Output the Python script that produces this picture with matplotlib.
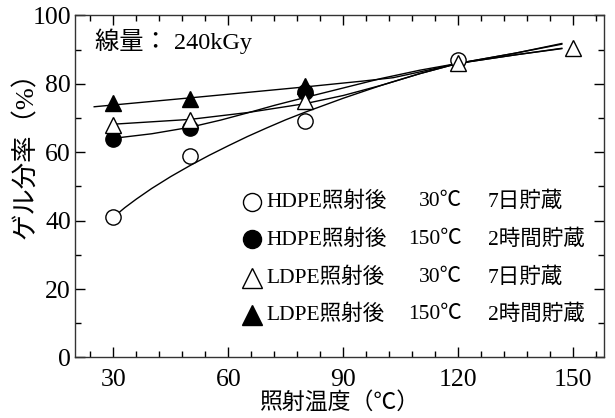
"""Gel fraction vs. irradiation temperature for HDPE / LDPE (240 kGy)"""
import numpy as np
import matplotlib
matplotlib.use("Agg")
from matplotlib import pyplot as plt
from matplotlib.ticker import MultipleLocator

plt.rcParams['font.family'] = ['Liberation Serif', 'Noto Sans CJK JP']
plt.rcParams['axes.unicode_minus'] = False

# measured gel fraction (%)
temp_hdpe_rt = [30, 50, 80, 120]
gel_hdpe_rt = [41, 59, 69, 87]
temp_hdpe_hot = [30, 50, 80]
gel_hdpe_hot = [64, 67, 77.5]
temp_ldpe_rt = [30, 50, 80, 120, 150]
gel_ldpe_rt = [68, 69.5, 75, 86, 90.5]
temp_ldpe_hot = [30, 50, 80]
gel_ldpe_hot = [74.5, 75.5, 79.5]

# hand-drawn trend curves
trend_x_hdpe_rt = [30, 33, 36, 40, 45, 50, 55, 60, 65, 70, 75, 80, 90, 100,
                   110, 120, 135, 147]
trend_y_hdpe_rt = [41, 43.8, 46.3, 49.4, 52.9, 56.1, 59.1, 61.9, 64.6, 67.1,
                   69.5, 71.7, 75.8, 79.6, 83, 86, 88.5, 90.3]
trend_x_hdpe_hot = [31, 40, 50, 58, 65, 72, 80, 90, 100, 110, 120, 135, 147]
trend_y_hdpe_hot = [64.2, 65.4, 67.3, 69.4, 71.5, 73.7, 76, 78.8, 81.6, 84,
                    86, 88.5, 90.4]
trend_x_ldpe_rt = [30, 50, 65, 80, 90, 100, 110, 120, 135, 147]
trend_y_ldpe_rt = [68.2, 69.6, 71.6, 74.2, 76.6, 79.6, 83, 86, 89.0, 91.6]
trend_x_ldpe_hot = [25, 50, 80, 95, 103, 110, 120, 135, 147]
trend_y_ldpe_hot = [73.3, 75.9, 79.1, 80.8, 81.8, 83.5, 86, 89.0, 91.8]

legend_names = ["HDPE照射後", "HDPE照射後", "LDPE照射後", "LDPE照射後"]
legend_temps = ["30℃", "150℃", "30℃", "150℃"]
legend_store = ["7日貯蔵", "2時間貯蔵", "7日貯蔵", "2時間貯蔵"]


def main():
    fig = plt.figure(figsize=(6.15, 4.18), dpi=100)
    ax = fig.add_axes([0.122, 0.145, 0.860, 0.818])

    line_kw = dict(color="black", lw=1.0, zorder=2)
    ax.plot(trend_x_hdpe_rt, trend_y_hdpe_rt, **line_kw)
    ax.plot(trend_x_hdpe_hot, trend_y_hdpe_hot, **line_kw)
    ax.plot(trend_x_ldpe_rt, trend_y_ldpe_rt, **line_kw)
    ax.plot(trend_x_ldpe_hot, trend_y_ldpe_hot, **line_kw)

    styles = [
        ("o", "white", 11),
        ("o", "black", 11),
        ("^", "white", 12),
        ("^", "black", 12),
    ]
    series = [
        (temp_hdpe_rt, gel_hdpe_rt),
        (temp_hdpe_hot, gel_hdpe_hot),
        (temp_ldpe_rt, gel_ldpe_rt),
        (temp_ldpe_hot, gel_ldpe_hot),
    ]
    for (m, fc, ms), (xs, ys) in zip(styles, series):
        ax.plot(xs, ys, ls="none", marker=m, ms=ms, mfc=fc, mec="black",
                mew=1.0, zorder=3)

    ax.set_xlim(20, 158)
    ax.set_ylim(0, 100)
    ax.xaxis.set_major_locator(MultipleLocator(30))
    ax.xaxis.set_minor_locator(MultipleLocator(6))
    ax.yaxis.set_major_locator(MultipleLocator(20))
    ax.yaxis.set_minor_locator(MultipleLocator(10))
    ax.tick_params(which="both", direction="in", top=True, right=True,
                   width=1.0, labelsize=18.5)
    ax.tick_params(which="major", length=7)
    ax.tick_params(which="minor", length=4.5)
    ax.tick_params(axis="x", which="major", pad=8)
    ax.tick_params(axis="y", which="major", pad=3)
    for s in ax.spines.values():
        s.set_linewidth(1.0)
        s.set_color("#333333")

    ax.set_xlabel("照射温度（℃）", fontsize=16.5, labelpad=1)
    ax.set_ylabel("ゲル分率（%）", fontsize=19)
    ax.yaxis.set_label_coords(-0.07, 0.61)

    ax.text(0.038, 0.925, "線量： 240kGy", transform=ax.transAxes,
            fontsize=17.5, va="center", ha="left")

    # legend, drawn as aligned columns (axes fractions)
    row_y = [0.455, 0.345, 0.233, 0.125]
    for i, ((m, fc, ms), y) in enumerate(zip(styles, row_y)):
        ax.plot([0.334], [y], transform=ax.transAxes, marker=m, ms=ms + 2,
                mfc=fc, mec="black", mew=1.0, ls="none", clip_on=False)
        ax.text(0.362, y, legend_names[i], transform=ax.transAxes,
                fontsize=15.5, va="center", ha="left")
        ax.text(0.731, y, legend_temps[i], transform=ax.transAxes,
                fontsize=15.5, va="center", ha="right")
        ax.text(0.780, y, legend_store[i], transform=ax.transAxes,
                fontsize=15.5, va="center", ha="left")

    fig.savefig("out.png", dpi=100)


if __name__ == '__main__':
    main()
